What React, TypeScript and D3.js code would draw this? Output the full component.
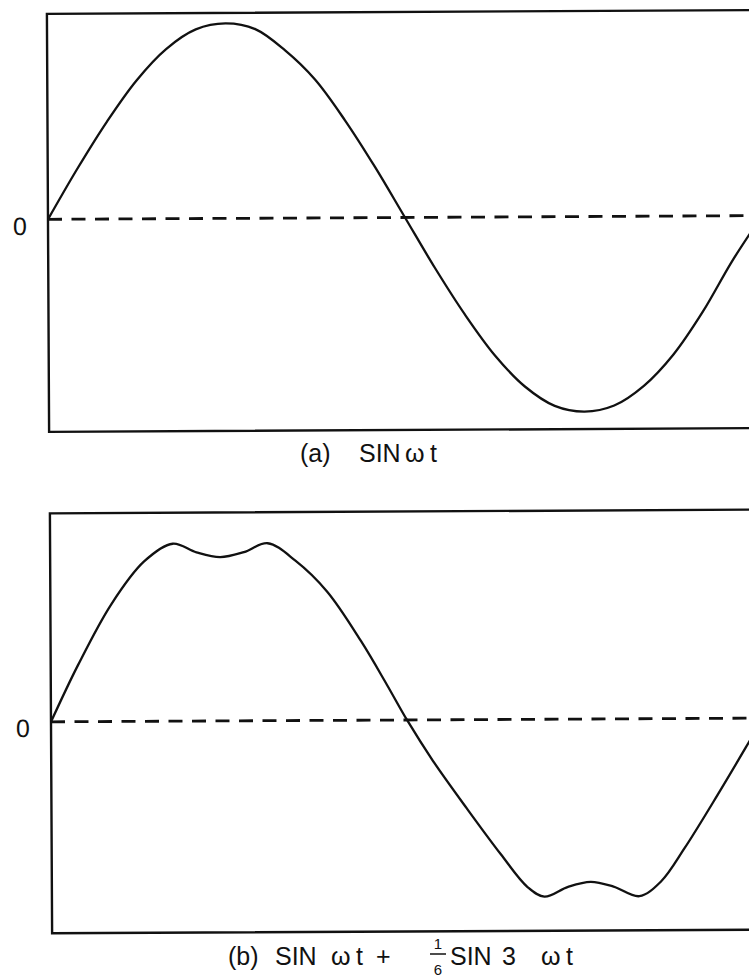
import React from "react";
import * as d3 from "d3";

// Phase angle (degrees) across one period, and signal values in units of the fundamental's peak
const phaseA = [0, 15, 30, 45, 60, 75, 90, 105, 120, 135, 150, 165, 180, 195, 210, 225, 240, 255, 270, 285, 300, 315, 330, 345, 360];
const valueA = [0, 0.26, 0.5, 0.71, 0.87, 0.97, 1.0, 0.97, 0.86, 0.71, 0.5, 0.26, 0, -0.26, -0.5, -0.71, -0.87, -0.97, -1.0, -0.97, -0.87, -0.71, -0.49, -0.23, 0];

const phaseB = [
  0, 13.8, 30.7, 47.5, 62, 74, 86, 98, 110, 124, 140, 157, 170, 180,
  193, 210, 227, 240.5, 249, 261, 272.5, 284, 297, 308, 320, 337, 353, 360,
];
const valueB = [
  0, 0.29, 0.6, 0.82, 0.91, 0.865, 0.84, 0.865, 0.91, 0.82, 0.66, 0.405, 0.18, 0,
  -0.21, -0.455, -0.69, -0.86, -0.91, -0.86, -0.835, -0.86, -0.91, -0.835, -0.665, -0.39, -0.12, 0,
];

const zeroLabel = "0";

const W = 749;
const H = 978;
const FONT = "'Liberation Sans', Arial, Helvetica, sans-serif";
const INK = "#111";

type PanelProps = {
  phases: number[];
  values: number[];
  left: number;
  top: number;
  bottom: number;
  zero: number;
  periodEnd: number;
  labelX: number;
  labelY: number;
};

function Panel({ phases, values, left, top, bottom, zero, periodEnd, labelX, labelY }: PanelProps) {
  const x = d3.scaleLinear().domain([0, 360]).range([left, periodEnd]);
  const y = d3.scaleLinear().domain([-1, 1]).range([zero + 195, zero - 195]);
  const pts = phases.map((p, i) => [p, values[i]] as [number, number]);
  const line = d3
    .line<[number, number]>()
    .x((d) => x(d[0]))
    .y((d) => y(d[1]))
    .curve(d3.curveCatmullRom.alpha(0.5));
  const right = periodEnd + 8;
  const cx = (left + W) / 2;
  const cy = (top + bottom) / 2;
  return (
    <g transform={`rotate(-0.3 ${cx} ${cy})`}>
      <rect x={left} y={top} width={right - left} height={bottom - top} fill="none" stroke={INK} strokeWidth={2.4} />
      <line x1={x(0)} x2={right} y1={y(0)} y2={y(0)} stroke={INK} strokeWidth={2.8} strokeDasharray="14 9.5" />
      <path d={line(pts) || ""} fill="none" stroke={INK} strokeWidth={2.3} strokeLinejoin="round" />
      <text x={labelX} y={labelY} fontFamily={FONT} fontSize={25} textAnchor="middle" fill={INK}>
        {zeroLabel}
      </text>
    </g>
  );
}

export default function App() {
  return (
    <svg
      width={W}
      height={H}
      viewBox={`0 0 ${W} ${H}`}
      style={{ position: "absolute", left: 0, top: 0, background: "#fff" }}
    >
      <rect x={0} y={0} width={W} height={H} fill="#fff" />
      <Panel phases={phaseA} values={valueA} left={48} top={12} bottom={430} zero={217.5} periodEnd={762} labelX={20} labelY={233} />
      <Panel phases={phaseB} values={valueB} left={51} top={511.5} bottom={931.5} zero={720} periodEnd={763} labelX={23} labelY={735} />

      {/* caption (a) */}
      <text y={462} fontFamily={FONT} fontSize={25} fill={INK}>
        <tspan x={300}>(a)</tspan>
        <tspan x={359}>SIN</tspan>
        <tspan x={405}>ω</tspan>
        <tspan x={430}>t</tspan>
      </text>

      {/* caption (b) */}
      <text y={965} fontFamily={FONT} fontSize={25} fill={INK}>
        <tspan x={228}>(b)</tspan>
        <tspan x={275}>SIN</tspan>
        <tspan x={331}>ω</tspan>
        <tspan x={356}>t</tspan>
        <tspan x={376}>+</tspan>
        <tspan x={450}>SIN</tspan>
        <tspan x={502}>3</tspan>
        <tspan x={541}>ω</tspan>
        <tspan x={566}>t</tspan>
      </text>
      <text x={438} y={949} fontFamily={FONT} fontSize={15} textAnchor="middle" fill={INK}>1</text>
      <line x1={430} x2={446} y1={954} y2={954} stroke={INK} strokeWidth={1.5} />
      <text x={438} y={975} fontFamily={FONT} fontSize={15} textAnchor="middle" fill={INK}>6</text>
    </svg>
  );
}
